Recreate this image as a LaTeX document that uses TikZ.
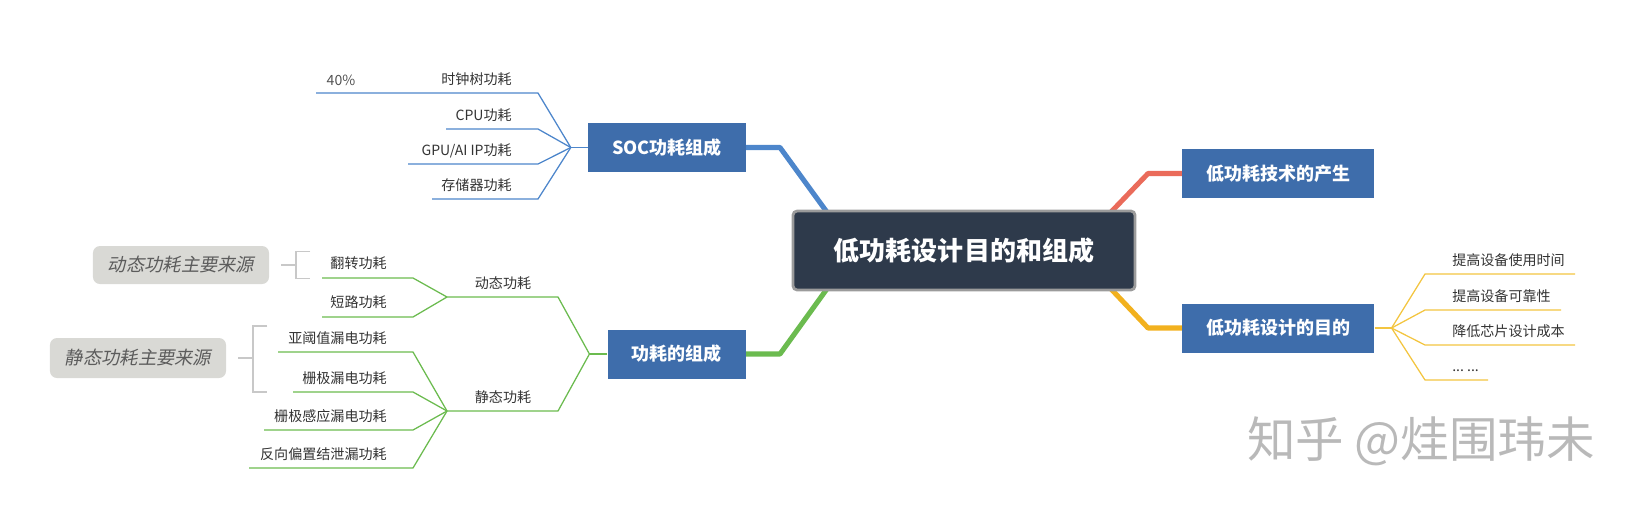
\documentclass[tikz,border=0pt]{standalone}
\usepackage{fontspec}
\setmainfont{Noto Sans CJK SC}
\newfontfamily\cjkslant[FakeSlant=0.2]{Noto Sans CJK SC}
\usetikzlibrary{positioning,calc,backgrounds}
\newcommand{\mmdots}{...\ ...}
\definecolor{mmtopic}{RGB}{62,109,171}
\definecolor{mmroot}{RGB}{46,58,75}
\definecolor{mmrim}{RGB}{155,155,155}
\definecolor{mmblue}{RGB}{77,134,203}
\definecolor{mmred}{RGB}{234,107,90}
\definecolor{mmgreen}{RGB}{107,187,79}
\definecolor{mmorange}{RGB}{242,177,30}
\definecolor{mmyellow}{RGB}{243,197,64}
\definecolor{mmtext}{RGB}{51,51,51}
\definecolor{mmnote}{RGB}{217,217,213}
\definecolor{mmbrk}{RGB}{200,200,200}
\definecolor{mmmark}{RGB}{185,185,185}

\begin{document}
\begin{tikzpicture}[
  x=0.025cm, y=-0.025cm,
  root/.style={draw=mmrim, line width=2pt, fill=mmroot, rounded corners=3pt, text=white,
               font=\fontsize{18.5}{22}\selectfont\bfseries, minimum width=8.55cm, minimum height=1.975cm},
  topic/.style={fill=mmtopic, text=white, font=\fontsize{12.8}{15}\selectfont\bfseries,
                inner xsep=0.6cm, minimum height=1.225cm},
  leaf/.style={text=mmtext, font=\fontsize{10}{12}\selectfont, inner sep=0pt},
  note/.style={fill=mmnote, rounded corners=5pt, text=mmtext!80, font=\fontsize{13}{15}\selectfont\cjkslant,
               minimum width=4.4cm, minimum height=0.95cm},
  bough/.style={line width=3.6pt, line join=round},
  twig/.style={line width=0.9pt},
  brk/.style={draw=mmbrk, line width=1.4pt},
  wmark/.style={text=mmmark, font=\fontsize{34.5}{38}\selectfont}
]
\useasboundingbox (0,0) rectangle (1636,508);

% central topic and main branches
\node[root] (root) at (964,250.5) {低功耗设计目的和组成};
\node[topic, anchor=east] (soc) at (746,147.5) {SOC功耗组成};
\node[topic, anchor=east] (comp) at (746,354) {功耗的组成};
\node[topic, anchor=west] (origin) at (1182,173.5) {低功耗技术的产生};
\node[topic, anchor=west] (goal) at (1182,328) {低功耗设计的目的};

\begin{scope}[on background layer]
\draw[bough, mmblue] (soc.east) -- ++(34,0) -- ($(root.north west)+(35,2)$);
\draw[bough, mmgreen] (comp.east) -- ++(34,0) -- ($(root.south west)+(35,-2)$);
\draw[bough, mmred] (origin.west) -- ++(-34,0) -- ($(root.north east)+(-25,2)$);
\draw[bough, mmorange] (goal.west) -- ++(-34,0) -- ($(root.south east)+(-25,-2)$);
\end{scope}

% SOC power
\coordinate (socHub) at ($(soc.west)+(-17,0)$);
\draw[twig, mmblue] (soc.west) -- (socHub);
\foreach \y/\xl/\txt [count=\i] in {93/316/时钟树功耗, 129/446/CPU功耗, 164/408/{GPU/AI IP功耗}, 199/432/存储器功耗}{
  \node[leaf, anchor=base east] (soc\i) at (512,\y-9) {\txt};
  \draw[twig, mmblue] (socHub) -- (538,\y) -- (\xl,\y);
}
\node[leaf, text=mmtext!85, anchor=base] (share) at (341,85) {40\%};

% power composition
\coordinate (compHub) at ($(comp.west)+(-18,0)$);
\coordinate (dynHub) at (447,297);
\coordinate (staHub) at (447,411);
\draw[twig, mmgreen] (comp.west) -- (compHub);
\draw[twig, mmgreen] (compHub) -- (558,297) -- (dynHub);
\draw[twig, mmgreen] (compHub) -- (558,411) -- (staHub);
\node[leaf, anchor=base] (dyn) at (503,288) {动态功耗};
\node[leaf, anchor=base] (sta) at (503,402) {静态功耗};
\foreach \y/\xl/\txt [count=\i] in {278/322/翻转功耗, 317/322/短路功耗}{
  \node[leaf, anchor=base east] (dyn\i) at (387,\y-10) {\txt};
  \draw[twig, mmgreen] (dynHub) -- (413,\y) -- (\xl,\y);
}
\foreach \y/\xl/\txt [count=\i] in {352/278/亚阈值漏电功耗, 392/293/栅极漏电功耗, 430/264/栅极感应漏电功耗, 468/249/反向偏置结泄漏功耗}{
  \node[leaf, anchor=base east] (sta\i) at (387,\y-9) {\txt};
  \draw[twig, mmgreen] (staHub) -- (413,\y) -- (\xl,\y);
}

% source notes
\node[note] (dynNote) at (181,265) {动态功耗主要来源};
\node[note, minimum height=1cm] (staNote) at (138,358) {静态功耗主要来源};
\draw[brk] (dynNote.east) ++(12,0) -- ++(15,0);
\draw[brk] ($(dynNote.east)+(41,-13.5)$) -- ++(-14,0) -- ++(0,27) -- ++(14,0);
\draw[brk] (staNote.east) ++(12,0) -- ++(15,0);
\draw[brk] ($(staNote.east)+(41,-32)$) -- ++(-14,0) -- ++(0,66) -- ++(14,0);

% design goals
\coordinate (goalHub) at ($(goal.east)+(17,0)$);
\draw[twig, mmyellow] (goal.east) -- (goalHub);
\foreach \y/\xr/\txt [count=\i] in {274/1575/提高设备使用时间, 310/1561/提高设备可靠性, 345/1575/降低芯片设计成本, 380/1488/\mmdots}{
  \node[leaf, anchor=base west] (goal\i) at (1452,\y-9) {\txt};
  \draw[twig, mmyellow] (goalHub) -- (1425,\y) -- (\xr,\y);
}

\node[wmark] (zhihu) at (1421,441) {知乎 @烓围玮未};
\end{tikzpicture}
\end{document}
